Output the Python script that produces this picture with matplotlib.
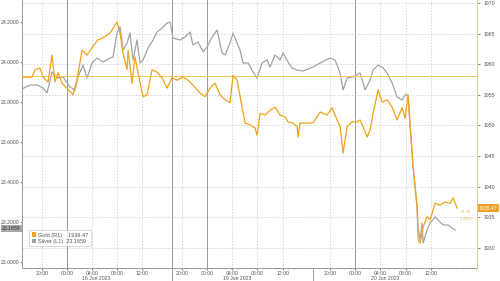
import matplotlib.pyplot as plt
from matplotlib.patches import Patch
from matplotlib.ticker import MultipleLocator
import matplotlib.transforms as mtransforms

plt.rcParams['font.family'] = ['Liberation Sans', 'DejaVu Sans']

# x = session hours with the weekend squeezed out, 0 ~ 15 Jun 20:00
gold_t = [-3.35, -1.75, -1.28, -0.48, 0.0, 0.8, 1.44, 1.91, 2.39, 3.03, 3.83, 4.78, 5.42, 6.22,
          7.02, 7.81, 8.77, 9.57, 10.69, 11.8, 12.28, 12.76, 13.4, 13.56, 14.19, 14.67, 15.15,
          15.95, 16.59, 17.38, 18.18, 18.98, 19.78, 20.57, 21.37, 22.33, 23.13, 23.92, 25.04,
          25.84, 26.63, 27.43, 28.23, 29.03, 29.82, 30.3, 30.94, 31.74, 32.22, 33.01, 33.81,
          34.13, 34.61, 35.41, 36.2, 37.0, 37.8, 38.6, 39.07, 39.87, 40.51, 40.67, 40.99, 43.06,
          44.18, 45.3, 46.09, 46.89, 47.37, 47.85, 48.48, 49.28, 50.08, 50.56, 51.04, 51.67,
          52.15, 52.63, 53.43, 54.07, 54.86, 55.66, 56.46, 57.26, 57.74, 58.21, 58.53, 59.01,
          59.65, 59.81, 60.13, 60.61, 61.24, 61.72, 62.52, 63.32, 64.11, 64.91, 65.39, 66.03]
gold = [1957.9, 1957.9, 1959.1, 1959.4, 1957.9, 1957.1, 1961.5, 1957.1, 1958.6, 1956.9, 1956.1,
        1955.0, 1957.4, 1962.3, 1961.5, 1962.7, 1964.0, 1964.3, 1965.1, 1966.9, 1965.1, 1961.8,
        1959.1, 1962.3, 1956.9, 1961.2, 1958.6, 1954.7, 1955.0, 1959.1, 1958.7, 1957.8, 1956.1,
        1957.8, 1957.4, 1957.9, 1957.4, 1956.6, 1955.3, 1954.7, 1956.1, 1956.9, 1955.0, 1954.2,
        1953.7, 1958.2, 1957.4, 1953.0, 1950.4, 1950.1, 1949.6, 1948.4, 1952.0, 1951.7, 1952.5,
        1953.0, 1951.7, 1951.4, 1950.6, 1950.4, 1949.8, 1948.1, 1950.4, 1950.4, 1952.2, 1951.7,
        1952.9, 1950.9, 1949.8, 1945.5, 1949.8, 1950.6, 1950.6, 1950.9, 1949.8, 1948.1, 1949.3,
        1952.0, 1955.8, 1953.8, 1954.2, 1953.0, 1950.9, 1952.9, 1951.2, 1955.0, 1950.4, 1943.2,
        1936.7, 1931.3, 1930.8, 1933.4, 1935.1, 1934.6, 1937.3, 1937.0, 1937.5, 1937.3, 1938.2,
        1936.5]

silver_t = [-3.35, -2.07, -0.96, 0.0, 0.64, 1.44, 2.23, 3.19, 4.31, 5.1, 5.58, 6.38, 7.02, 7.81,
            8.61, 9.57, 10.69, 11.16, 11.8, 12.28, 12.76, 13.4, 13.88, 14.35, 14.99, 15.47, 15.95,
            16.75, 17.54, 18.18, 18.98, 19.78, 20.26, 20.73, 21.85, 22.65, 23.44, 23.92, 24.72,
            25.52, 26.16, 26.95, 27.75, 28.55, 29.03, 29.82, 30.3, 30.94, 31.42, 31.9, 32.7,
            33.49, 34.13, 34.93, 35.73, 36.2, 37.0, 37.8, 38.28, 39.07, 39.71, 40.51, 41.47,
            43.06, 44.5, 45.77, 46.57, 47.37, 47.85, 48.48, 49.44, 50.56, 51.36, 52.15, 52.63,
            53.43, 54.23, 54.86, 55.66, 56.46, 57.26, 57.74, 58.21, 58.53, 59.01, 59.65, 59.81,
            60.13, 60.45, 60.61, 61.24, 61.72, 62.52, 63.0, 63.8, 64.59, 65.23, 65.71]
silver = [23.865, 23.885, 23.885, 23.870, 23.845, 23.950, 23.920, 23.925, 23.875, 23.860, 23.925,
          23.985, 23.920, 23.995, 24.020, 24.000, 24.020, 24.025, 24.145, 24.175, 24.060, 24.095,
          24.145, 24.010, 24.110, 23.995, 24.010, 24.070, 24.110, 24.150, 24.170, 24.195, 24.200,
          24.120, 24.110, 24.125, 24.150, 24.085, 24.100, 24.050, 24.075, 24.125, 24.160, 24.045,
          24.035, 24.095, 24.145, 24.095, 24.060, 23.995, 23.995, 23.950, 23.920, 23.995, 24.010,
          23.975, 24.035, 24.010, 24.045, 24.000, 23.970, 23.960, 23.955, 23.975, 24.000, 24.020,
          24.010, 23.945, 23.860, 23.920, 23.925, 23.945, 23.860, 23.910, 23.960, 23.985, 23.970,
          23.945, 23.895, 23.825, 23.810, 23.835, 23.835, 23.675, 23.475, 23.275, 23.175, 23.110,
          23.195, 23.095, 23.160, 23.195, 23.225, 23.210, 23.185, 23.185, 23.170, 23.160]

tick_t = [-0.2, 3.8, 7.8, 11.8, 15.8, 22.2, 26.2, 30.2, 34.2, 38.2, 45.8, 49.8, 53.8, 57.8, 61.8]
tick_lbl = ['20:00', '00:00', '04:00', '08:00', '12:00',
            '20:00', '00:00', '04:00', '08:00', '12:00',
            '20:00', '00:00', '04:00', '08:00', '12:00']
day_t = [8.5, 30.9, 54.6]
day_lbl = ['16 Jun 2023', '19 Jun 2023', '20 Jun 2023']
day_lines = [3.8, 20.6, 26.2, 49.8]
group_breaks = [20.6, 43.1]

left_ticks = [23.0, 23.2, 23.4, 23.6, 23.8, 24.0, 24.2]
right_ticks = [1930, 1935, 1940, 1945, 1950, 1955, 1960, 1965, 1970]

gold_ref = 1958.1
gold_last = 1936.47
silver_last = 23.1659

GOLD = '#f0a31a'
SILVER = '#a3a3a3'
TXT = '#555555'
FS = 3.7

L_LIM = (22.97, 24.31)
R_LIM = (1926.73, 1970.49)


def right_to_left(v):
    return L_LIM[0] + (v - R_LIM[0]) / (R_LIM[1] - R_LIM[0]) * (L_LIM[1] - L_LIM[0])


fig = plt.figure(figsize=(5, 2.81), dpi=100)
ax = fig.add_axes([22 / 500, 13 / 281, 455 / 500, 268 / 281])
ax2 = ax.twinx()

ax.set_xlim(-3.35, 69.2)
ax.set_ylim(*L_LIM)
ax2.set_ylim(*R_LIM)

# grid: vertical on time ticks, horizontal on the right axis ticks
for t in tick_t:
    ax.axvline(t, color='#cccccc', lw=0.6, ls=(0, (1.5, 2)), zorder=0)
for v in right_ticks:
    ax.axhline(right_to_left(v), color='#cccccc', lw=0.6, ls=(0, (1.5, 2)), zorder=0)
for t in day_lines:
    ax.axvline(t, color='#9a9a9a', lw=0.7, zorder=1)

ax.plot(silver_t, silver, color=SILVER, lw=0.9, zorder=3)
ax2.axhline(gold_ref, color='#f6c667', lw=0.7, zorder=1)
ax2.plot(gold_t, gold, color=GOLD, lw=0.9, zorder=3)

# axes styling
ax.spines['top'].set_visible(False)
ax2.spines['top'].set_visible(False)
ax.spines['right'].set_visible(False)
ax2.spines['left'].set_visible(False)
ax2.spines['bottom'].set_visible(False)
ax.spines['left'].set_color('#9a9a9a')
ax.spines['bottom'].set_color('#9a9a9a')
ax2.spines['right'].set_color('#ecc98a')
for sp in [ax.spines['left'], ax.spines['bottom'], ax2.spines['right']]:
    sp.set_linewidth(0.7)

ax.set_xticks(tick_t)
ax.set_xticklabels(tick_lbl)
ax.xaxis.set_minor_locator(MultipleLocator(1))
ax.tick_params(axis='x', which='major', labelsize=FS, colors=TXT, length=1.5, width=0.5, pad=0.4)
ax.tick_params(axis='x', which='minor', length=1.0, width=0.4, color='#9a9a9a')

ax.set_yticks(left_ticks)
ax.set_yticklabels([f'{v:.4f}' for v in left_ticks])
ax.tick_params(axis='y', labelsize=FS, colors=TXT, length=1.5, width=0.5, pad=0.6)

ax2.set_yticks(right_ticks)
ax2.set_yticklabels([str(v) for v in right_ticks])
ax2.tick_params(axis='y', labelsize=FS, colors=TXT, length=2, width=0.5, pad=2.5)

# day labels + group separators below the axis
trans = mtransforms.blended_transform_factory(ax.transData, ax.transAxes)
for t, lbl in zip(day_t, day_lbl):
    ax.text(t, -0.029, lbl, transform=trans, ha='center', va='top', fontsize=FS, color=TXT)
for t in group_breaks:
    ax.plot([t, t], [0, -0.05], transform=trans, color='#9a9a9a', lw=0.7, clip_on=False)

# last-value tags on both axes
ax2.annotate(f'{gold_last:.2f}', xy=(1, gold_last), xycoords=('axes fraction', 'data'),
             xytext=(1.5, 0), textcoords='offset points', ha='left', va='center',
             fontsize=FS, color='white',
             bbox=dict(boxstyle='square,pad=0.3', fc='#eea22a', ec='none'))
ax.annotate(f'{silver_last:.4f}', xy=(0, silver_last), xycoords=('axes fraction', 'data'),
            xytext=(-1.0, 0), textcoords='offset points', ha='right', va='center',
            fontsize=FS, color='#333333',
            bbox=dict(boxstyle='square,pad=0.2', fc='#a8a8a8', ec='none'))

# small change annotations next to the end of the gold line
ax2.text(66.5, 1935.9, '-21.34', fontsize=3.0, color='#f0b54a', va='center', ha='left')
ax2.text(66.5, 1934.7, '-1.09%', fontsize=3.0, color='#f0b54a', va='center', ha='left')

handles = [Patch(fc=GOLD, ec='none'), Patch(fc=SILVER, ec='none')]
labels = [f'Gold (R1)    {gold_last:.2f}', f'Silver (L1)  {silver_last:.4f}']
leg = ax2.legend(handles, labels, loc='lower left', bbox_to_anchor=(0.01, 0.07),
                 fontsize=FS + 0.3, frameon=True, handlelength=0.8, handleheight=0.8,
                 handletextpad=0.4, borderpad=0.45, labelspacing=0.25, fancybox=True)
leg.get_frame().set_edgecolor('#c8c8c8')
leg.get_frame().set_linewidth(0.6)
for txt in leg.get_texts():
    txt.set_color(TXT)

fig.savefig('out.png', dpi=100)
